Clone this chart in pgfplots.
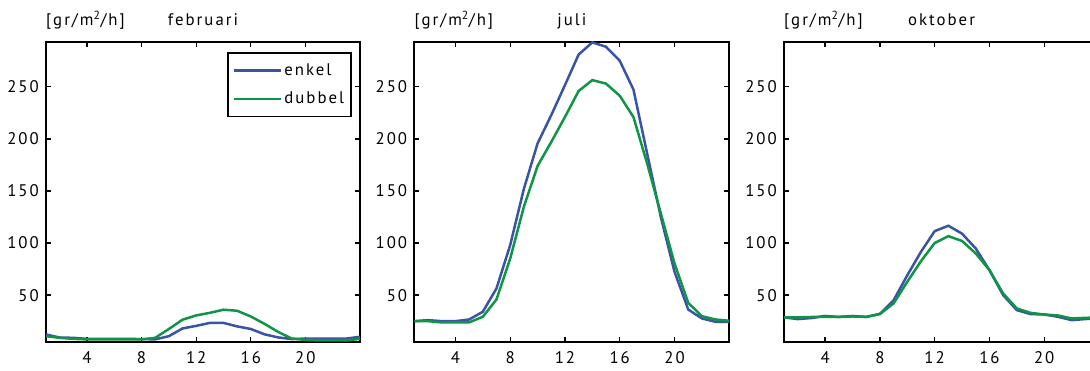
\documentclass[border=0pt]{standalone}
\usepackage{pgfplots}
\pgfplotsset{compat=1.18}
\usepackage{pgfplotstable}
\usepackage{fontspec}
\setmainfont{PT Sans}[LetterSpace=12]
\definecolor{cblue}{RGB}{58,84,165}
\definecolor{cgreen}{RGB}{16,148,70}
\newcommand{\fs}{\fontsize{16.8}{20}\selectfont}

\pgfplotstableread{
h e d
1 12.2 10.6
2 9.3 9
3 9 8
4 8 7.5
5 8 7.5
6 8 7.5
7 8 7.5
8 7.8 7.5
9 7.5 9
10 10.6 17.5
11 18 26.4
12 20.5 30.5
13 23.3 33
14 23.3 36
15 20 35
16 17.5 29.5
17 12.4 22.5
18 9.4 14.7
19 7.8 8.3
20 8.3 7
21 8.3 6.5
22 8.3 6.5
23 8.3 6.5
24 10 8
}\feb

\pgfplotstableread{
h e d
1 25 25
2 26 25
3 25 23.8
4 25 23.8
5 26.6 23.8
6 34 29.2
7 56.4 45.8
8 98 85
9 152 134.8
10 195.6 174
11 222.8 197
12 251.6 221
13 281 246
14 292.6 256.4
15 288.4 253
16 275 241.4
17 247.4 221
18 186 176.4
19 125 128.4
20 72.4 80.4
21 36.2 42.6
22 27.6 29.8
23 24.4 26.6
24 24.4 25.4
}\jul

\pgfplotstableread{
h e d
1 28.6 28.6
2 27 28.6
3 28 29
4 30 29.2
5 29 29.2
6 30 29.5
7 29 29.2
8 32 31.8
9 45 42
10 69 62.8
11 91.6 82.6
12 111.4 100
13 116.6 106.6
14 109 102
15 94.8 90
16 74 74
17 50 51.6
18 35.6 37.2
19 31.8 33
20 31.4 31.4
21 29.2 30.5
22 26 27.6
23 27 28.2
24 28 28.5
}\okt

\pgfplotsset{
  myax/.style={
    anchor=south west, scale only axis,
    width=314pt, height=300pt,
    xmin=1, xmax=24, ymin=5, ymax=293,
    xtick={4,8,12,16,20}, ytick={50,100,150,200,250},
    xtick pos=both, ytick pos=both, tick align=inside,
    major tick length=5pt,
    axis line style={line width=1.8pt, black},
    every tick/.style={black, line width=1.3pt},
    /pgf/number format/assume math mode=true,
    tick label style={font=\fs},
    yticklabel style={anchor=east, inner sep=0pt, xshift=-7pt},
    xticklabel style={anchor=base, inner sep=0pt, yshift=-21pt},
    every axis plot/.append style={line width=2.5pt},
    clip=true,
  },
  labels/.style={after end axis/.code={
    \node[anchor=base west, inner sep=0pt, font=\fs] at (rel axis cs:0,1) [yshift=16pt] {[gr/m\textsuperscript{2}/h]};
    \node[anchor=base, inner sep=0pt, font=\fs] at (rel axis cs:0.5,1) [yshift=16pt] {#1};
  }},
}

\begin{document}
\begin{tikzpicture}[x=1pt,y=1pt]
\begin{axis}[myax, labels={februari}, at={(46pt,28pt)},
  legend style={at={(rel axis cs:1,1)}, anchor=north east, xshift=-8pt, yshift=-10pt,
    draw=black, line width=1.8pt, font=\fs,
    inner xsep=5pt, inner ysep=9pt, row sep=11pt},
  legend cell align=left,
  legend image code/.code={\draw[#1, line width=2.5pt] (0pt,0pt) -- (47pt,0pt);},
]
\addplot[cblue, line width=2.5pt] table[x=h,y=e] {\feb};
\addlegendentry{enkel}
\addplot[cgreen, line width=2.5pt] table[x=h,y=d] {\feb};
\addlegendentry{dubbel}
\end{axis}
\begin{axis}[myax, labels={juli}, at={(414.3pt,28pt)}, width=315pt]
\addplot[cblue] table[x=h,y=e] {\jul};
\addplot[cgreen] table[x=h,y=d] {\jul};
\end{axis}
\begin{axis}[myax, labels={oktober}, at={(784pt,28pt)}, width=315pt]
\addplot[cblue] table[x=h,y=e] {\okt};
\addplot[cgreen] table[x=h,y=d] {\okt};
\end{axis}
\pgfresetboundingbox
\path[use as bounding box] (0,0) rectangle (1090,370);
\end{tikzpicture}
\end{document}
